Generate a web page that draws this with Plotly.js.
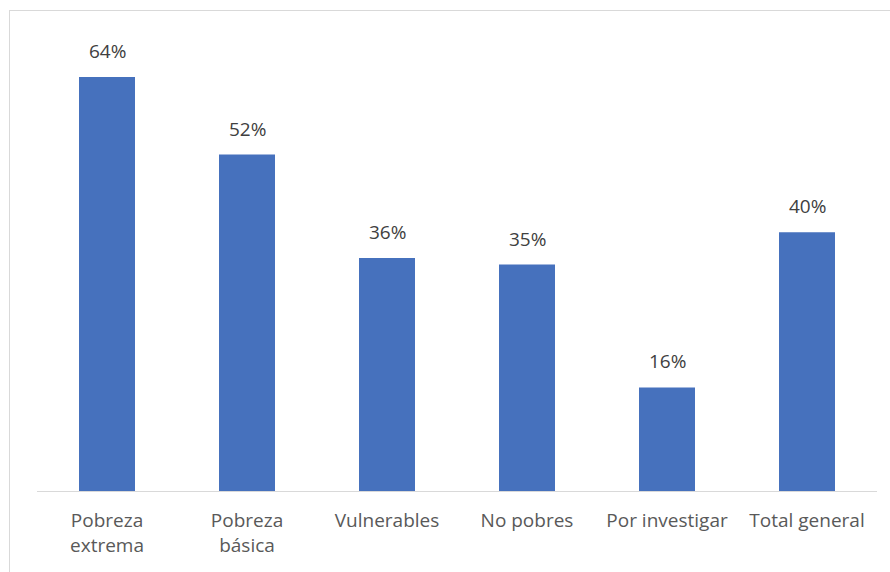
<!DOCTYPE html>
<html>
<head>
<meta charset="utf-8">
<script src="https://cdn.plot.ly/plotly-3.0.1.min.js"></script>
<style>
html,body{margin:0;padding:0;background:#fff;}
#wrap{position:relative;width:890px;height:572px;overflow:hidden;}
#chart{width:890px;height:572px;}
#frame{position:absolute;left:9px;top:10px;width:900px;height:600px;border:1px solid #d9d9d9;pointer-events:none;}
</style>
</head>
<body>
<div id="wrap"><div id="chart"></div><div id="frame"></div></div>
<script>
var categories = ["Pobreza<br>extrema", "Pobreza<br>básica", "Vulnerables", "No pobres", "Por investigar", "Total general"];
var values = [64, 52, 36, 35, 16, 40];
var labels = ["64%", "52%", "36%", "35%", "16%", "40%"];

var font = "'Open Sans', 'Liberation Sans', sans-serif";

var trace = {
  type: 'bar',
  x: categories,
  y: values,
  marker: {color: '#4671BD'},
  hoverinfo: 'none'
};

var annotations = categories.map(function(c, i){
  return {x: c, y: values[i], text: labels[i], showarrow: false,
    xref: 'x', yref: 'y', yanchor: 'bottom', yshift: 11,
    font: {family: font, size: 19, color: '#404040'}};
});

var layout = {
  width: 890, height: 572,
  margin: {l: 37, r: 13, t: 20, b: 81},
  paper_bgcolor: '#fff', plot_bgcolor: '#fff',
  bargap: 0.6,
  showlegend: false,
  xaxis: {
    showline: true, linecolor: '#d9d9d9', linewidth: 1,
    ticks: '', showgrid: false, zeroline: false,
    tickfont: {family: font, size: 19, color: '#595959'},
    ticklabelstandoff: 12,
    tickangle: 0
  },
  yaxis: {
    range: [0, 72.8], visible: false, showgrid: false, zeroline: false
  },
  annotations: annotations
};

Plotly.newPlot('chart', [trace], layout, {displayModeBar: false, staticPlot: true});
</script>
</body>
</html>
